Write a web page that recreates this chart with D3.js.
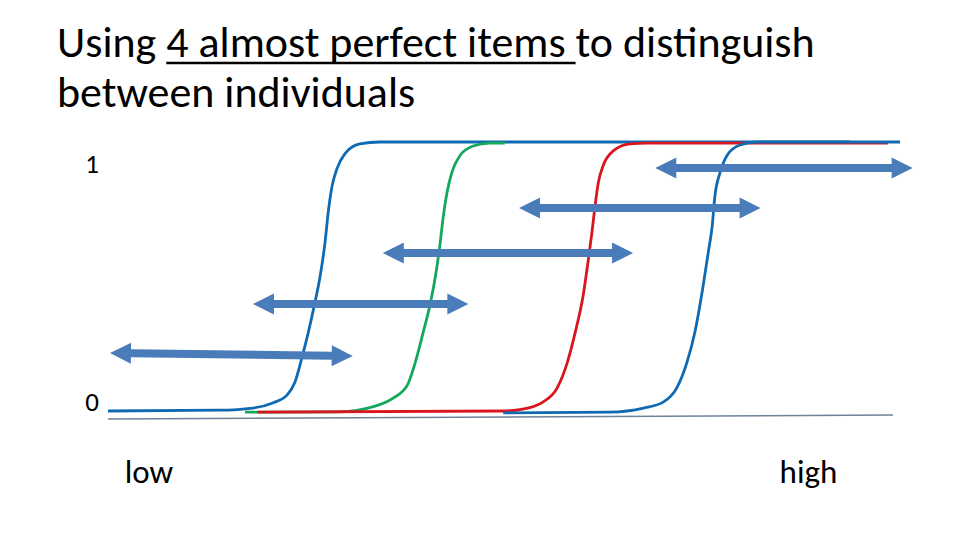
<!DOCTYPE html>
<html>
<head>
<meta charset="utf-8">
<script src="https://cdn.jsdelivr.net/npm/d3@7"></script>
<style>
  html, body { margin: 0; padding: 0; background: #fff; }
  svg { display: block; }
  text { font-family: Carlito, Calibri, Lato, "Open Sans", sans-serif; fill: #000; }
</style>
</head>
<body>
<script>
// ---------- data ----------
const titleParts = ["Using ", "4 almost perfect items ", "to distinguish"];
const titleLine2 = "between individuals";
const yTickLabels = [{ label: "1", v: 0.885 }, { label: "0", v: 0.0 }];
const xEndLabels = [{ label: "low", v: 2.1 }, { label: "high", v: 84.8 }];

// item characteristic curves: x = ability (0..100), p = probability (0..1)
const curveBlue1X = [0, 14.1, 18.3, 20.8, 22.6, 23.6, 24.5, 25.3, 26.1, 26.8, 27.4, 27.8, 28.3, 28.9, 29.9, 31.8, 34.3, 93.7];
const curveBlue1P = [0, 0.003, 0.011, 0.030, 0.059, 0.107, 0.2, 0.293, 0.4, 0.504, 0.626, 0.737, 0.837, 0.9, 0.956, 0.993, 1.0, 1.0];
const curveGreenX = [17.3, 29.3, 33.5, 36.0, 37.8, 38.8, 39.8, 40.7, 41.5, 41.9, 42.3, 42.8, 43.4, 44.4, 46.1, 48.2, 50.1];
const curveGreenP = [-0.004, -0.003, 0.016, 0.048, 0.096, 0.181, 0.293, 0.4, 0.53, 0.615, 0.715, 0.811, 0.885, 0.948, 0.985, 0.996, 0.996];
const curveRedX = [18.9, 49.9, 52.4, 54.9, 56.7, 58.0, 59.0, 60.0, 60.6, 61.1, 61.5, 61.9, 62.5, 63.8, 65.9, 68.1, 98.5];
const curveRedP = [-0.004, 0, 0.007, 0.033, 0.085, 0.181, 0.293, 0.430, 0.552, 0.663, 0.763, 0.848, 0.911, 0.967, 0.993, 0.996, 0.996];
const curveBlue2X = [49.9, 63.4, 67.6, 70.1, 71.8, 73.1, 74.1, 75.1, 75.8, 76.3, 76.6, 77.3, 78.2, 79.8, 81.9, 100];
const curveBlue2P = [-0.007, -0.004, 0.011, 0.033, 0.085, 0.181, 0.293, 0.457, 0.591, 0.691, 0.792, 0.888, 0.952, 0.989, 1, 1];

// double-headed arrows: individuals' ranges
const arrowX1 = [0.25, 18.3, 34.7, 51.9, 69.1];
const arrowX2 = [30.9, 45.5, 66.3, 82.4, 101.6];
const arrowY1 = [0.216, 0.398, 0.587, 0.755, 0.903];
const arrowY2 = [0.204, 0.398, 0.587, 0.755, 0.903];

// baseline
const baseX = [0, 99.1];
const baseY = [-0.030, -0.015];

// ---------- drawing ----------
const W = 960, H = 540;
const svg = d3.select("body").append("svg").attr("width", W).attr("height", H);

const x = d3.scaleLinear().domain([0, 100]).range([108, 900]);
const y = d3.scaleLinear().domain([0, 1]).range([411, 142]);

// title
const title = svg.append("text").attr("x", 57).attr("y", 57).style("font-size", "40px");
const tsp = titleParts.map(s => title.append("tspan").text(s));
let w = title.node().getComputedTextLength();
const fs = 40 * 758 / w;
title.style("font-size", fs + "px");
const pre = tsp[0].node().getComputedTextLength();
const und = tsp[1].node().getComputedTextLength();
svg.append("line")
  .attr("x1", 57 + pre).attr("x2", 57 + pre + und)
  .attr("y1", 63).attr("y2", 63)
  .attr("stroke", "#000").attr("stroke-width", 2.6);
svg.append("text").attr("x", 57).attr("y", 107).style("font-size", fs + "px").text(titleLine2);

// baseline
svg.append("line")
  .attr("x1", x(baseX[0])).attr("y1", y(baseY[0]))
  .attr("x2", x(baseX[1])).attr("y2", y(baseY[1]))
  .attr("stroke", "#6f8299").attr("stroke-width", 1.5);

// curves
const line = d3.line().x(d => x(d[0])).y(d => y(d[1])).curve(d3.curveMonotoneX);
const curves = [
  { xs: curveBlue1X, ps: curveBlue1P, c: "#0f6ab4" },
  { xs: curveGreenX, ps: curveGreenP, c: "#14a85a" },
  { xs: curveRedX, ps: curveRedP, c: "#d9161e" },
  { xs: curveBlue2X, ps: curveBlue2P, c: "#0f6ab4" }
];
svg.append("g").selectAll("path").data(curves).join("path")
  .attr("d", d => line(d.xs.map((v, i) => [v, d.ps[i]])))
  .attr("fill", "none").attr("stroke", d => d.c)
  .attr("stroke-width", 2.8).attr("stroke-linejoin", "round").attr("stroke-linecap", "butt");

// arrows
const headL = 21, headH = 10.5, shaftH = 4;
const arrows = arrowX1.map((v, i) => ({ x1: x(v), y1: y(arrowY1[i]), x2: x(arrowX2[i]), y2: y(arrowY2[i]) }));
svg.append("g").selectAll("path").data(arrows).join("path")
  .attr("d", a => {
    const len = Math.hypot(a.x2 - a.x1, a.y2 - a.y1);
    const pts = [
      [0, 0], [headL, -headH], [headL, -shaftH], [len - headL, -shaftH], [len - headL, -headH],
      [len, 0], [len - headL, headH], [len - headL, shaftH], [headL, shaftH], [headL, headH]
    ];
    return "M" + pts.map(p => p.join(",")).join("L") + "Z";
  })
  .attr("transform", a => {
    const ang = Math.atan2(a.y2 - a.y1, a.x2 - a.x1) * 180 / Math.PI;
    return `translate(${a.x1},${a.y1}) rotate(${ang})`;
  })
  .attr("fill", "#4a7cb9");

// tick labels
svg.append("g").selectAll("text").data(yTickLabels).join("text")
  .attr("x", 92).attr("y", d => y(d.v))
  .attr("text-anchor", "middle").style("font-size", "27px")
  .text(d => d.label);

svg.append("g").selectAll("text").data(xEndLabels).join("text")
  .attr("x", d => x(d.v)).attr("y", 483)
  .style("font-size", "33px")
  .text(d => d.label);
</script>
</body>
</html>
